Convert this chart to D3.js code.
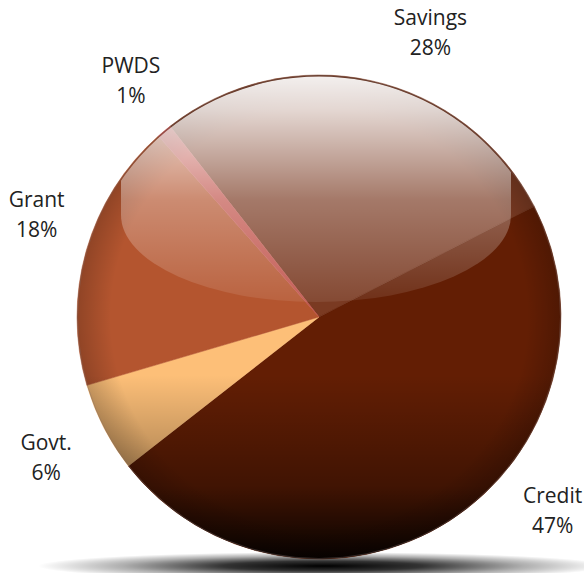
<!DOCTYPE html>
<html>
<head>
<meta charset="utf-8">
<script src="https://cdn.jsdelivr.net/npm/d3@7"></script>
<style>
  html, body { margin: 0; padding: 0; background: #ffffff; }
  svg { display: block; }
</style>
</head>
<body>
<svg id="chart" width="584" height="573"></svg>
<script>
// ---- data ----
const categories = ["Savings", "Credit", "Govt.", "Grant", "PWDS"];
const values = [28, 47, 6, 18, 1];
const percentLabels = ["28%", "47%", "6%", "18%", "1%"];
const colors = ["#7a3a22", "#631e04", "#fdbf78", "#b4552f", "#c0524a"];

// ---- layout ----
const W = 584, H = 573;
const cx = 319, cy = 317, R = 242;
const startDeg = -38;
const labelRadius = 300;
const labelNudge = [[47, 16], [72, -52], [-6, 11], [6, -12], [4, 1.5]];

const svg = d3.select("#chart");
const defs = svg.append("defs");

// shadow gradient
const sg = defs.append("radialGradient").attr("id", "shadowGrad");
sg.append("stop").attr("offset", "0%").attr("stop-color", "#000").attr("stop-opacity", 1);
sg.append("stop").attr("offset", "35%").attr("stop-color", "#000").attr("stop-opacity", 0.8);
sg.append("stop").attr("offset", "70%").attr("stop-color", "#000").attr("stop-opacity", 0.32);
sg.append("stop").attr("offset", "100%").attr("stop-color", "#000").attr("stop-opacity", 0);

// bottom darkening
const bg = defs.append("linearGradient").attr("id", "bottomDark")
  .attr("x1", 0).attr("y1", 0).attr("x2", 0).attr("y2", 1);
bg.append("stop").attr("offset", "0%").attr("stop-color", "#000").attr("stop-opacity", 0);
bg.append("stop").attr("offset", "62%").attr("stop-color", "#000").attr("stop-opacity", 0);
bg.append("stop").attr("offset", "85%").attr("stop-color", "#000").attr("stop-opacity", 0.35);
bg.append("stop").attr("offset", "100%").attr("stop-color", "#000").attr("stop-opacity", 0.92);

// edge rim
const rg = defs.append("radialGradient").attr("id", "rimGrad");
rg.append("stop").attr("offset", "0%").attr("stop-color", "#000").attr("stop-opacity", 0);
rg.append("stop").attr("offset", "86%").attr("stop-color", "#000").attr("stop-opacity", 0);
rg.append("stop").attr("offset", "100%").attr("stop-color", "#000").attr("stop-opacity", 0.2);

// gloss
const gg = defs.append("linearGradient").attr("id", "glossGrad")
  .attr("gradientUnits", "userSpaceOnUse")
  .attr("x1", 0).attr("y1", cy - R).attr("x2", 0).attr("y2", 302);
gg.append("stop").attr("offset", "0%").attr("stop-color", "#fff").attr("stop-opacity", 0.93);
gg.append("stop").attr("offset", "15%").attr("stop-color", "#fff").attr("stop-opacity", 0.8);
gg.append("stop").attr("offset", "55%").attr("stop-color", "#fff").attr("stop-opacity", 0.32);
gg.append("stop").attr("offset", "100%").attr("stop-color", "#fff").attr("stop-opacity", 0.08);

defs.append("clipPath").attr("id", "pieClip")
  .append("circle").attr("cx", cx).attr("cy", cy).attr("r", R);
defs.append("clipPath").attr("id", "glossClip")
  .append("circle").attr("cx", cx).attr("cy", cy).attr("r", R - 1.5);

// shadow under pie
svg.append("ellipse")
  .attr("cx", 323).attr("cy", 566)
  .attr("rx", 285).attr("ry", 14)
  .attr("fill", "url(#shadowGrad)");

const pie = d3.pie().sort(null).value(d => d)
  .startAngle(startDeg * Math.PI / 180)
  .endAngle((startDeg + 360) * Math.PI / 180);
const arcs = pie(values);
const arc = d3.arc().innerRadius(0).outerRadius(R);
const labelArc = d3.arc().innerRadius(labelRadius).outerRadius(labelRadius);

const g = svg.append("g").attr("transform", `translate(${cx},${cy})`);
g.selectAll("path.slice").data(arcs).join("path")
  .attr("class", "slice")
  .attr("d", arc)
  .attr("fill", (d, i) => colors[i])
  .attr("stroke", (d, i) => colors[i])
  .attr("stroke-width", 0.5);

const ov = svg.append("g").attr("clip-path", "url(#pieClip)");
ov.append("rect").attr("x", cx - R).attr("y", cy - R).attr("width", 2 * R).attr("height", 2 * R)
  .attr("fill", "url(#bottomDark)");
ov.append("circle").attr("cx", cx).attr("cy", cy).attr("r", R).attr("fill", "url(#rimGrad)");

// gloss: top follows the sphere, bottom is a half ellipse
const gl = 121, gr = 511, gmid = 215, gry = 87;
const glossPath = `M${gl},${gmid} A${(gr - gl) / 2},${gry} 0 0 0 ${gr},${gmid} L${gr},${cy - R - 5} L${gl},${cy - R - 5} Z`;
svg.append("g").attr("clip-path", "url(#glossClip)")
  .append("path").attr("d", glossPath).attr("fill", "url(#glossGrad)");

svg.append("circle").attr("cx", cx).attr("cy", cy).attr("r", R - 0.5)
  .attr("fill", "none").attr("stroke", "rgba(130,110,105,0.35)").attr("stroke-width", 1);

// labels
const lab = svg.append("g")
  .attr("font-family", "'Open Sans', sans-serif")
  .attr("font-size", 21)
  .attr("fill", "#222")
  .attr("text-anchor", "middle");
arcs.forEach((d, i) => {
  const c = labelArc.centroid(d);
  const x = cx + c[0] + labelNudge[i][0];
  const y = cy + c[1] + labelNudge[i][1];
  lab.append("text").attr("x", x).attr("y", y - 15).text(categories[i]);
  lab.append("text").attr("x", x).attr("y", y + 15).text(percentLabels[i]);
});
</script>
</body>
</html>
